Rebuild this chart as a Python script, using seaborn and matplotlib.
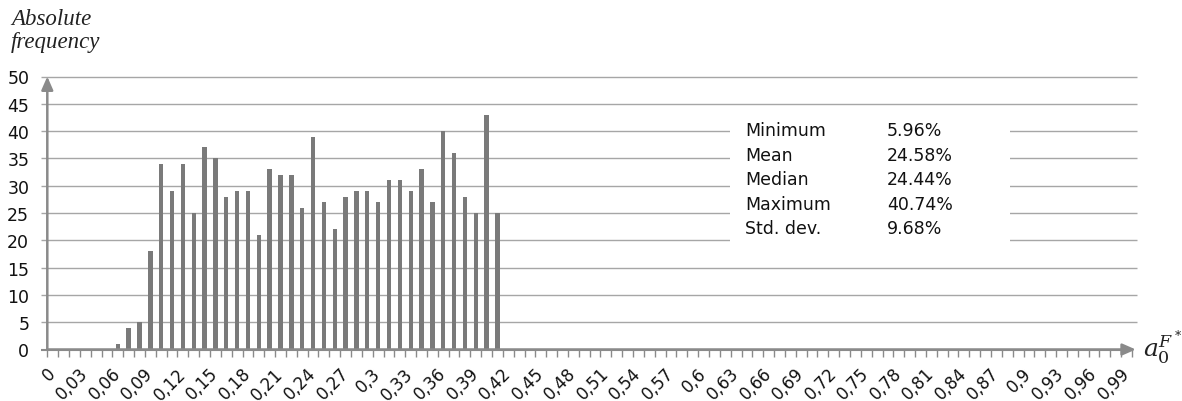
import matplotlib
matplotlib.use("Agg")
import matplotlib.pyplot as plt
import seaborn as sns
import numpy as np
import pandas as pd
from matplotlib.patches import Rectangle

# ---- data ----
bins = [f"{i / 100:g}".replace(".", ",") for i in range(100)]
counts = [
    0, 0, 0, 0, 0, 0, 1, 4, 5, 18,
    34, 29, 34, 25, 37, 35, 28, 29, 29, 21,
    33, 32, 32, 26, 39, 27, 22, 28, 29, 29,
    27, 31, 31, 29, 33, 27, 40, 36, 28, 25,
    43, 25, 0, 0, 0, 0, 0, 0, 0, 0,
    0, 0, 0, 0, 0, 0, 0, 0, 0, 0,
    0, 0, 0, 0, 0, 0, 0, 0, 0, 0,
    0, 0, 0, 0, 0, 0, 0, 0, 0, 0,
    0, 0, 0, 0, 0, 0, 0, 0, 0, 0,
    0, 0, 0, 0, 0, 0, 0, 0, 0, 0,
]
y_ticks = [0, 5, 10, 15, 20, 25, 30, 35, 40, 45, 50]
stat_names = ["Minimum", "Mean", "Median", "Maximum", "Std. dev."]
stat_values = ["5.96%", "24.58%", "24.44%", "40.74%", "9.68%"]

# ---- style ----
sns.set_style("white")
plt.rcParams["font.family"] = ["DejaVu Sans"]
plt.rcParams["mathtext.fontset"] = "dejavuserif"

W, H = 1182, 402
fig = plt.figure(figsize=(W / 100, H / 100), dpi=100)
x0, x1 = 47.3, 1132.0
y0, y1 = 350.5, 77.5
ax = fig.add_axes([x0 / W, 1 - y0 / H, (x1 - x0) / W, (y0 - y1) / H])

df = pd.DataFrame({"bin": bins, "count": counts})
sns.barplot(data=df, x="bin", y="count", order=bins, color="#7a7a7a",
            saturation=1, width=0.4, linewidth=0, ax=ax, zorder=3)

ax.set_xlim(-0.5, 99.5)
ax.set_ylim(0, 50)
for s in ax.spines.values():
    s.set_visible(False)
ax.set_xlabel("")
ax.set_ylabel("")

# grid lines (extend slightly past the plot area like the original)
ax.hlines(y_ticks[1:], -1.08, 99.93, colors="#a6a6a6", lw=1, zorder=1, clip_on=False)
ax.hlines([0], -1.08, 99.5, colors="#8a8a8a", lw=1.5, zorder=4, clip_on=False)

ax.set_yticks(y_ticks)
ax.set_yticklabels([str(v) for v in y_ticks])
ax.tick_params(axis="y", length=0, pad=13, labelsize=12.5, labelcolor="#111111")

major = list(range(0, 100, 3))
ax.set_xticks(major)
ax.set_xticklabels([bins[i] for i in major], rotation=45, ha="right",
                   va="center", rotation_mode="anchor", fontsize=12, color="#111111")
ax.set_xticks(np.arange(-0.5, 100, 1), minor=True)
ax.tick_params(axis="x", which="major", length=0, pad=15)
ax.tick_params(axis="x", which="minor", length=5, width=1, color="#8a8a8a",
               direction="out", bottom=True)

# axis arrows
arrow = dict(arrowstyle="-|>,head_length=0.8,head_width=0.35", color="#8a8a8a",
             lw=1.8, shrinkA=0, shrinkB=0)
ax.annotate("", xy=(1.0035, 0), xytext=(0, 0), xycoords="axes fraction",
            arrowprops=arrow, annotation_clip=False, zorder=5)
ax.annotate("", xy=(0, 1.0), xytext=(0, 0), xycoords="axes fraction",
            arrowprops=arrow, annotation_clip=False, zorder=5)

# axis titles
fig.text(11 / W, 1 - 25 / H, "Absolute", family="Liberation Serif", style="italic",
         fontsize=16.5, va="baseline", color="#222222")
fig.text(11 / W, 1 - 48 / H, "frequency", family="Liberation Serif", style="italic",
         fontsize=16.5, va="baseline", color="#222222")
fig.text(1143 / W, 1 - 357 / H, r"$a_0^{F^*}$", fontsize=18, va="baseline", color="#222222")

# statistics box
fig.patches.append(Rectangle((730 / W, 1 - 247 / H), 280 / W, 132 / H,
                             transform=fig.transFigure, facecolor="white",
                             edgecolor="none", zorder=2))
for k, (n, v) in enumerate(zip(stat_names, stat_values)):
    yb = 136 + k * 24.6
    fig.text(745 / W, 1 - yb / H, n, fontsize=12.5, va="baseline", color="#111111", zorder=3)
    fig.text(887 / W, 1 - yb / H, v, fontsize=12.5, va="baseline", color="#111111", zorder=3)

fig.savefig("out.png", dpi=100)
